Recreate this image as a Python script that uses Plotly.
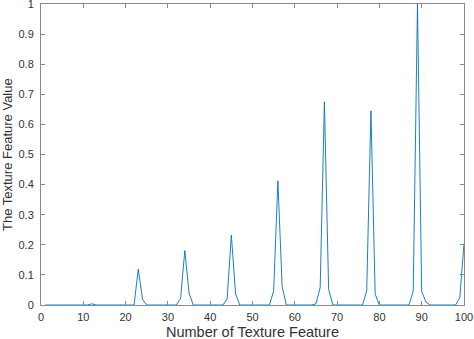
import plotly.graph_objects as go

feature_index = list(range(1, 101))
texture_values = [
    0, 0, 0, 0, 0, 0, 0, 0, 0, 0,
    0, 0.004, 0, 0, 0, 0, 0, 0, 0, 0,
    0, 0, 0.119, 0.019, 0, 0, 0, 0, 0, 0,
    0, 0, 0.022, 0.181, 0.040, 0, 0, 0, 0, 0,
    0, 0, 0, 0.020, 0.232, 0.037, 0, 0, 0, 0,
    0, 0, 0, 0, 0.047, 0.413, 0.062, 0, 0, 0,
    0, 0, 0, 0, 0.004, 0.058, 0.675, 0.052, 0, 0,
    0, 0, 0, 0, 0, 0, 0.047, 0.645, 0.036, 0,
    0, 0, 0, 0, 0, 0, 0, 0.047, 1.0, 0.045,
    0.010, 0, 0, 0, 0, 0, 0, 0, 0.024, 0.204,
]
x_ticks = [0, 10, 20, 30, 40, 50, 60, 70, 80, 90, 100]
y_ticks = [0, 0.1, 0.2, 0.3, 0.4, 0.5, 0.6, 0.7, 0.8, 0.9, 1]
y_tick_text = ["0", "0.1", "0.2", "0.3", "0.4", "0.5", "0.6", "0.7", "0.8", "0.9", "1"]
x_title = "Number of Texture Feature"
y_title = "The Texture Feature Value"

FONT = "Liberation Sans, Arial"
TXT = "#333333"

fig = go.Figure()
fig.add_trace(go.Scatter(
    x=feature_index, y=texture_values, mode="lines",
    line=dict(color="#0072BD", width=0.9),
))

axis_common = dict(
    showgrid=False, zeroline=False, showline=True, linecolor="#8a8a8a", linewidth=1,
    mirror="ticks", ticks="inside", ticklen=4, tickcolor="#8a8a8a",
    tickfont=dict(family=FONT, size=11, color=TXT), automargin=False,
    ticklabeloverflow="allow",
)

fig.update_layout(
    width=474, height=339,
    margin=dict(l=41, r=10, t=4, b=34),
    paper_bgcolor="white", plot_bgcolor="white",
    showlegend=False,
    xaxis=dict(range=[0, 100], tickvals=x_ticks, ticklabelstandoff=2, **axis_common),
    yaxis=dict(range=[0, 1], tickvals=y_ticks, ticktext=y_tick_text, ticklabelstandoff=4, **axis_common),
    annotations=[
        dict(text=x_title, xref="paper", yref="paper", x=0.5, y=0, xanchor="center",
             yanchor="top", yshift=-17, showarrow=False,
             font=dict(family=FONT, size=14.5, color=TXT)),
        dict(text=y_title, xref="paper", yref="paper", x=0, y=0.5, xanchor="right",
             yanchor="middle", xshift=-24, textangle=-90, showarrow=False,
             font=dict(family=FONT, size=13, color=TXT)),
    ],
)

fig.write_html("out.html", config={"displayModeBar": False},
               post_script="document.body.style.margin='0';document.body.style.overflow='hidden';")
